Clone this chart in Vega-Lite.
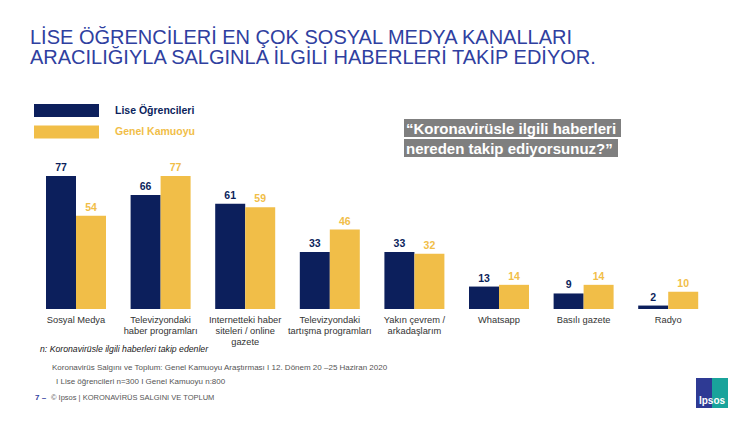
{
  "$schema": "https://vega.github.io/schema/vega-lite/v6.json",
  "width": 750,
  "height": 309,
  "autosize": "none",
  "padding": {"left": 0, "top": 0, "right": 0, "bottom": 112},
  "background": "white",
  "config": {"view": {"stroke": null}, "font": "Liberation Sans"},
  "resolve": {"scale": {"x": "independent"}},
  "layer": [
    {
      "data": {
        "values": [
          {"kanal": "Sosyal Medya", "grup": "Lise Öğrencileri", "deger": 77},
          {"kanal": "Sosyal Medya", "grup": "Genel Kamuoyu", "deger": 54},
          {"kanal": "Televizyondaki|haber programları", "grup": "Lise Öğrencileri", "deger": 66},
          {"kanal": "Televizyondaki|haber programları", "grup": "Genel Kamuoyu", "deger": 77},
          {"kanal": "Internetteki haber|siteleri / online|gazete", "grup": "Lise Öğrencileri", "deger": 61},
          {"kanal": "Internetteki haber|siteleri / online|gazete", "grup": "Genel Kamuoyu", "deger": 59},
          {"kanal": "Televizyondaki|tartışma programları", "grup": "Lise Öğrencileri", "deger": 33},
          {"kanal": "Televizyondaki|tartışma programları", "grup": "Genel Kamuoyu", "deger": 46},
          {"kanal": "Yakın çevrem /|arkadaşlarım", "grup": "Lise Öğrencileri", "deger": 33},
          {"kanal": "Yakın çevrem /|arkadaşlarım", "grup": "Genel Kamuoyu", "deger": 32},
          {"kanal": "Whatsapp", "grup": "Lise Öğrencileri", "deger": 13},
          {"kanal": "Whatsapp", "grup": "Genel Kamuoyu", "deger": 14},
          {"kanal": "Basılı gazete", "grup": "Lise Öğrencileri", "deger": 9},
          {"kanal": "Basılı gazete", "grup": "Genel Kamuoyu", "deger": 14},
          {"kanal": "Radyo", "grup": "Lise Öğrencileri", "deger": 2},
          {"kanal": "Radyo", "grup": "Genel Kamuoyu", "deger": 10}
        ]
      },
      "encoding": {
        "x": {
          "field": "kanal", "type": "nominal", "sort": null,
          "scale": {"paddingInner": 0.2908, "paddingOuter": 0.578, "align": 0.4704, "round": false},
          "axis": {
            "title": null, "domain": false, "ticks": false, "labelAngle": 0,
            "labelPadding": 6, "labelFont": "Liberation Sans", "labelFontSize": 9.3,
            "labelColor": "#333333", "labelLineHeight": 11,
            "labelExpr": "split(datum.label, '|')"
          }
        },
        "xOffset": {"field": "grup", "type": "nominal", "sort": ["Lise Öğrencileri", "Genel Kamuoyu"]},
        "y": {
          "field": "deger", "type": "quantitative",
          "scale": {"domain": [0, 179], "nice": false, "zero": true},
          "axis": null
        }
      },
      "layer": [
        {
          "mark": {"type": "bar"},
          "encoding": {
            "color": {
              "field": "grup", "type": "nominal",
              "scale": {"domain": ["Lise Öğrencileri", "Genel Kamuoyu"], "range": ["#0c1f5c", "#f1be48"]},
              "legend": {
                "orient": "none", "legendX": 34, "legendY": 104, "title": null, "padding": 0,
                "symbolType": "M-1,-1H9V1H-1Z", "symbolSize": 169, "symbolStrokeWidth": 0,
                "labelFont": "Liberation Sans", "labelFontSize": 10.5, "labelFontWeight": "bold",
                "labelOffset": 68, "rowPadding": 8.5,
                "labelColor": {"expr": "datum.value === 'Lise Öğrencileri' ? '#0c1f5c' : '#f1be48'"}
              }
            }
          }
        },
        {
          "mark": {"type": "text", "baseline": "alphabetic", "dy": -5, "fontSize": 10.5, "fontWeight": "bold", "font": "Liberation Sans"},
          "encoding": {
            "text": {"field": "deger", "type": "quantitative"},
            "color": {"field": "grup", "type": "nominal", "scale": {"domain": ["Lise Öğrencileri", "Genel Kamuoyu"], "range": ["#0c1f5c", "#f1be48"]}, "legend": null}
          }
        }
      ]
    },
    {
      "data": {"values": [{}]},
      "layer": [
        {
          "mark": {"type": "text", "align": "left", "baseline": "alphabetic", "fontSize": 20, "lineHeight": 20, "fill": "#2f40a0",
                   "text": ["LİSE ÖĞRENCİLERİ EN ÇOK SOSYAL MEDYA KANALLARI", "ARACILIĞIYLA SALGINLA İLGİLİ HABERLERİ TAKİP EDİYOR."]},
          "encoding": {
            "x": {"datum": 30, "type": "quantitative", "scale": {"domain": [0, 750], "nice": false, "zero": false}, "axis": null},
            "y": {"datum": 153.8, "type": "quantitative"}
          }
        },
        {
          "mark": {"type": "rect", "fill": "#7f7f7f"},
          "encoding": {
            "x": {"datum": 404, "type": "quantitative", "scale": {"domain": [0, 750], "nice": false, "zero": false}, "axis": null},
            "x2": {"datum": 621},
            "y": {"datum": 110.06, "type": "quantitative"},
            "y2": {"datum": 99.6}
          }
        },
        {
          "mark": {"type": "rect", "fill": "#7f7f7f"},
          "encoding": {
            "x": {"datum": 404, "type": "quantitative", "scale": {"domain": [0, 750], "nice": false, "zero": false}, "axis": null},
            "x2": {"datum": 618},
            "y": {"datum": 98.5, "type": "quantitative"},
            "y2": {"datum": 88.05}
          }
        },
        {
          "mark": {"type": "text", "align": "left", "baseline": "alphabetic", "fontSize": 15, "fontWeight": "bold", "lineHeight": 20, "fill": "#ffffff",
                   "text": ["“Koronavirüsle ilgili haberleri", "nereden takip ediyorsunuz?”"]},
          "encoding": {
            "x": {"datum": 406, "type": "quantitative", "scale": {"domain": [0, 750], "nice": false, "zero": false}, "axis": null},
            "y": {"datum": 101.66, "type": "quantitative"}
          }
        },
        {
          "mark": {"type": "text", "align": "left", "baseline": "alphabetic", "fontSize": 8.7, "fontStyle": "italic", "fill": "#1a1a1a",
                   "text": "n: Koronavirüsle ilgili haberleri takip edenler"},
          "encoding": {
            "x": {"datum": 40, "type": "quantitative", "scale": {"domain": [0, 750], "nice": false, "zero": false}, "axis": null},
            "y": {"datum": -24.9, "type": "quantitative"}
          }
        },
        {
          "mark": {"type": "text", "align": "left", "baseline": "alphabetic", "fontSize": 8, "fill": "#555555",
                   "text": "Koronavirüs Salgını ve Toplum:  Genel Kamuoyu Araştırması I 12. Dönem 20 –25 Haziran 2020"},
          "encoding": {
            "x": {"datum": 52, "type": "quantitative", "scale": {"domain": [0, 750], "nice": false, "zero": false}, "axis": null},
            "y": {"datum": -35.3, "type": "quantitative"}
          }
        },
        {
          "mark": {"type": "text", "align": "left", "baseline": "alphabetic", "fontSize": 8, "fill": "#555555",
                   "text": "I Lise öğrencileri  n=300 I Genel  Kamuoyu  n:800"},
          "encoding": {
            "x": {"datum": 56, "type": "quantitative", "scale": {"domain": [0, 750], "nice": false, "zero": false}, "axis": null},
            "y": {"datum": -43.45, "type": "quantitative"}
          }
        },
        {
          "mark": {"type": "text", "align": "left", "baseline": "alphabetic", "fontSize": 8, "fontWeight": "bold", "fill": "#2f40a0",
                   "text": "7 –"},
          "encoding": {
            "x": {"datum": 35, "type": "quantitative", "scale": {"domain": [0, 750], "nice": false, "zero": false}, "axis": null},
            "y": {"datum": -52.7, "type": "quantitative"}
          }
        },
        {
          "mark": {"type": "text", "align": "left", "baseline": "alphabetic", "fontSize": 7.5, "fill": "#555555",
                   "text": "© Ipsos | KORONAVİRÜS  SALGINI  VE TOPLUM"},
          "encoding": {
            "x": {"datum": 51, "type": "quantitative", "scale": {"domain": [0, 750], "nice": false, "zero": false}, "axis": null},
            "y": {"datum": -52.7, "type": "quantitative"}
          }
        },
        {
          "mark": {"type": "rect", "fill": "#2e3a94"},
          "encoding": {
            "x": {"datum": 696, "type": "quantitative", "scale": {"domain": [0, 750], "nice": false, "zero": false}, "axis": null},
            "x2": {"datum": 712},
            "y": {"datum": -39.97, "type": "quantitative"},
            "y2": {"datum": -57.35}
          }
        },
        {
          "mark": {"type": "rect", "fill": "#19a39b"},
          "encoding": {
            "x": {"datum": 712, "type": "quantitative", "scale": {"domain": [0, 750], "nice": false, "zero": false}, "axis": null},
            "x2": {"datum": 728},
            "y": {"datum": -39.97, "type": "quantitative"},
            "y2": {"datum": -57.35}
          }
        },
        {
          "mark": {"type": "text", "align": "center", "baseline": "alphabetic", "fontSize": 10, "fontWeight": "bold", "fill": "#ffffff",
                   "text": "Ipsos"},
          "encoding": {
            "x": {"datum": 712, "type": "quantitative", "scale": {"domain": [0, 750], "nice": false, "zero": false}, "axis": null},
            "y": {"datum": -55.0, "type": "quantitative"}
          }
        }
      ]
    }
  ]
}
